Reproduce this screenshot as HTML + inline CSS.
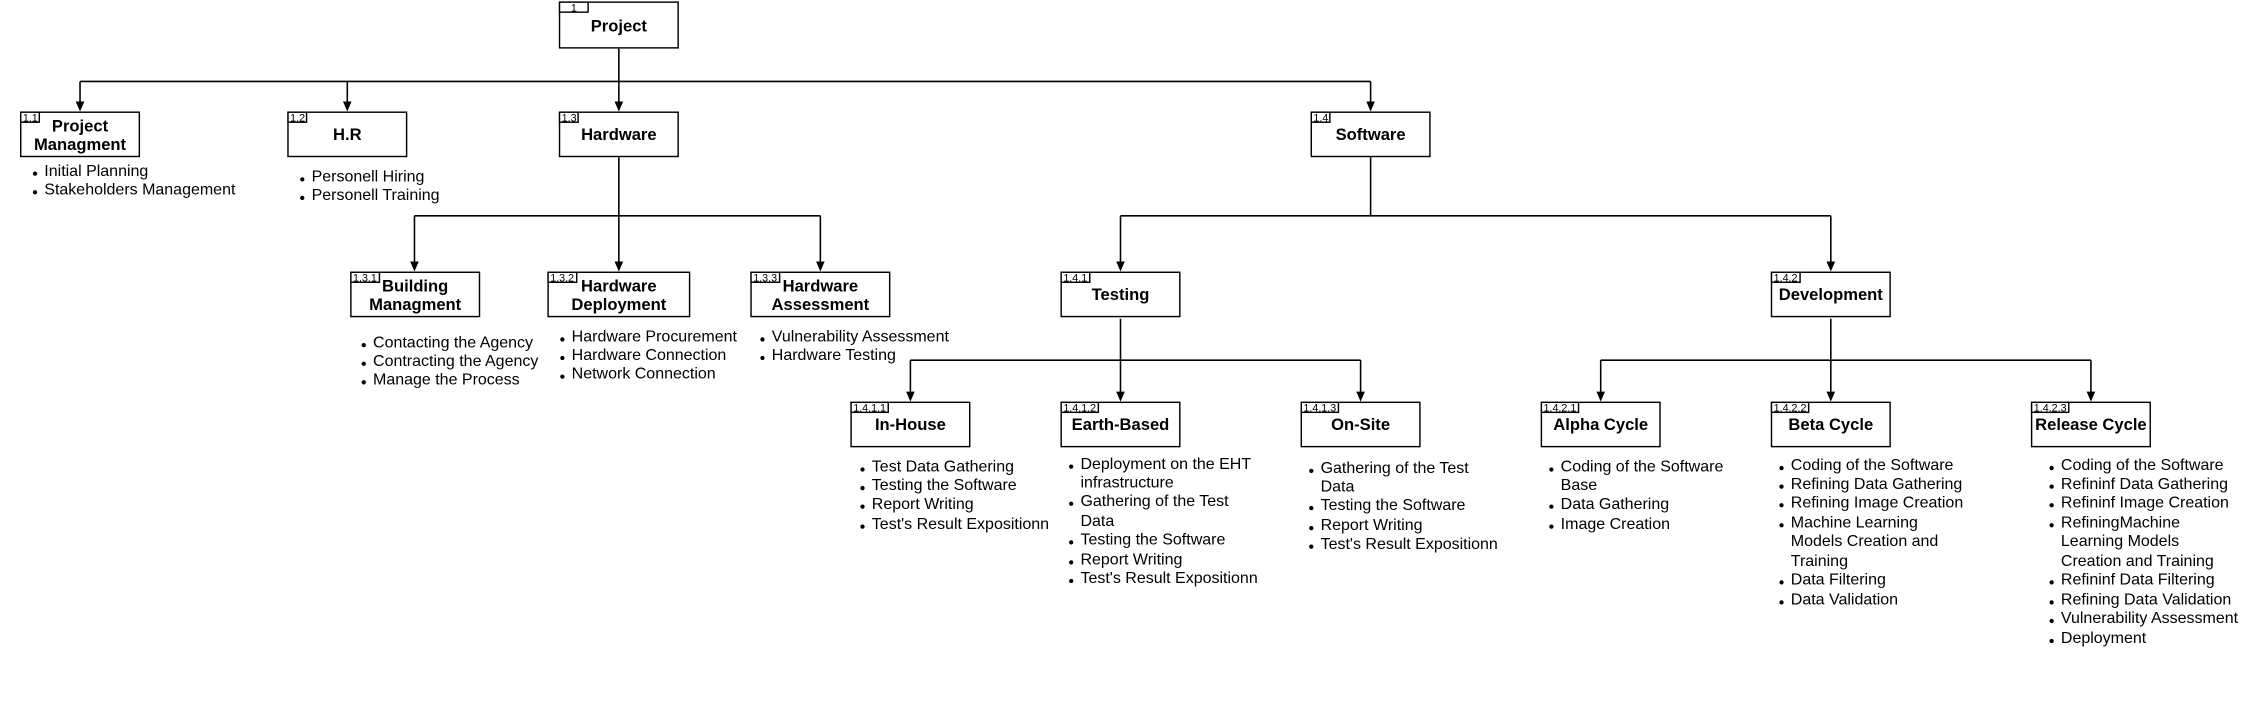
<!DOCTYPE html>
<html><head><meta charset="utf-8"><style>
html,body{margin:0;padding:0;background:#fff;}
body{width:2241px;height:713px;overflow:hidden;position:relative;}
#w{position:absolute;left:0;top:0;width:1568px;height:499px;transform:scale(1.4292);transform-origin:0 0;font-family:"Liberation Sans",Arial,sans-serif;color:#000;}
.b{position:absolute;height:32px;border:1px solid #000;box-sizing:border-box;background:#fff;display:flex;align-items:center;justify-content:center;text-align:center;font-weight:bold;font-size:11.6px;line-height:13.5px;padding-top:2px;}
.t{position:absolute;left:-1px;top:-1px;height:8px;border:1px solid #000;box-sizing:border-box;font-size:7.5px;line-height:7px;font-weight:normal;padding:0 1px;text-align:left;background:#fff;}
.l{position:absolute;font-size:11.2px;line-height:13.45px;white-space:nowrap;margin-top:1.5px;}
.l div{position:relative;}
.l div.i::before{content:"";position:absolute;left:-8px;top:6px;width:3px;height:3px;border-radius:50%;background:#000;}
svg{position:absolute;left:0;top:0;}
</style></head><body><div id="w">
<svg width="1568" height="499" viewBox="0 0 1568 499">
<g stroke="#000" stroke-width="1.1" fill="none">
<path d="M433 34V72M56 57H959M56 57V72M243 57V72M959 57V72"/>
<path d="M433 110V184M290 151H574M290 151V184M574 151V184"/>
<path d="M959 110V151M784 151H1281M784 151V184M1281 151V184"/>
<path d="M784 223V275M637 252H952M637 252V275M952 252V275"/>
<path d="M1281 223V275M1120 252H1463M1120 252V275M1463 252V275"/>
</g>
<g fill="#000">
<path d="M53 71h6l-3 7z"/><path d="M240 71h6l-3 7z"/><path d="M430 71h6l-3 7z"/><path d="M956 71h6l-3 7z"/>
<path d="M287 183h6l-3 7z"/><path d="M430 183h6l-3 7z"/><path d="M571 183h6l-3 7z"/>
<path d="M781 183h6l-3 7z"/><path d="M1278 183h6l-3 7z"/>
<path d="M634 274h6l-3 7z"/><path d="M781 274h6l-3 7z"/><path d="M949 274h6l-3 7z"/>
<path d="M1117 274h6l-3 7z"/><path d="M1278 274h6l-3 7z"/><path d="M1460 274h6l-3 7z"/>
</g>
</svg>

<div class="b" style="left:391px;top:1px;width:84px;height:33px"><div class="t" style="width:21px;text-align:center">1</div>Project</div>
<div class="b" style="left:14px;top:78px;width:84px"><div class="t">1.1</div>Project<br>Managment</div>
<div class="b" style="left:201px;top:78px;width:84px"><div class="t">1.2</div>H.R</div>
<div class="b" style="left:391px;top:78px;width:84px"><div class="t">1.3</div>Hardware</div>
<div class="b" style="left:917px;top:78px;width:84px"><div class="t">1.4</div>Software</div>

<div class="b" style="left:245px;top:190px;width:91px"><div class="t">1.3.1</div>Building<br>Managment</div>
<div class="b" style="left:383px;top:190px;width:100px"><div class="t">1.3.2</div>Hardware<br>Deployment</div>
<div class="b" style="left:525px;top:190px;width:98px"><div class="t">1.3.3</div>Hardware<br>Assessment</div>
<div class="b" style="left:742px;top:190px;width:84px"><div class="t">1.4.1</div>Testing</div>
<div class="b" style="left:1239px;top:190px;width:84px"><div class="t">1.4.2</div>Development</div>

<div class="b" style="left:595px;top:281px;width:84px"><div class="t">1.4.1.1</div>In-House</div>
<div class="b" style="left:742px;top:281px;width:84px"><div class="t">1.4.1.2</div>Earth-Based</div>
<div class="b" style="left:910px;top:281px;width:84px"><div class="t">1.4.1.3</div>On-Site</div>
<div class="b" style="left:1078px;top:281px;width:84px"><div class="t">1.4.2.1</div>Alpha Cycle</div>
<div class="b" style="left:1239px;top:281px;width:84px"><div class="t">1.4.2.2</div>Beta Cycle</div>
<div class="b" style="left:1421px;top:281px;width:84px"><div class="t">1.4.2.3</div>Release Cycle</div>

<div class="l" style="left:31px;top:112px"><div class="i">Initial Planning</div><div class="i">Stakeholders Management</div></div>
<div class="l" style="left:218px;top:116px"><div class="i">Personell Hiring</div><div class="i">Personell Training</div></div>
<div class="l" style="left:261px;top:232px"><div class="i">Contacting the Agency</div><div class="i">Contracting the Agency</div><div class="i">Manage the Process</div></div>
<div class="l" style="left:400px;top:228px"><div class="i">Hardware Procurement</div><div class="i">Hardware Connection</div><div class="i">Network Connection</div></div>
<div class="l" style="left:540px;top:228px"><div class="i">Vulnerability Assessment</div><div class="i">Hardware Testing</div></div>
<div class="l" style="left:610px;top:319px"><div class="i">Test Data Gathering</div><div class="i">Testing the Software</div><div class="i">Report Writing</div><div class="i">Test's Result Expositionn</div></div>
<div class="l" style="left:756px;top:317px"><div class="i">Deployment on the EHT</div><div>infrastructure</div><div class="i">Gathering of the Test</div><div>Data</div><div class="i">Testing the Software</div><div class="i">Report Writing</div><div class="i">Test's Result Expositionn</div></div>
<div class="l" style="left:924px;top:320px"><div class="i">Gathering of the Test</div><div>Data</div><div class="i">Testing the Software</div><div class="i">Report Writing</div><div class="i">Test's Result Expositionn</div></div>
<div class="l" style="left:1092px;top:319px"><div class="i">Coding of the Software</div><div>Base</div><div class="i">Data Gathering</div><div class="i">Image Creation</div></div>
<div class="l" style="left:1253px;top:318px"><div class="i">Coding of the Software</div><div class="i">Refining Data Gathering</div><div class="i">Refining Image Creation</div><div class="i">Machine Learning</div><div>Models Creation and</div><div>Training</div><div class="i">Data Filtering</div><div class="i">Data Validation</div></div>
<div class="l" style="left:1442px;top:318px"><div class="i">Coding of the Software</div><div class="i">Refininf Data Gathering</div><div class="i">Refininf Image Creation</div><div class="i">RefiningMachine</div><div>Learning Models</div><div>Creation and Training</div><div class="i">Refininf Data Filtering</div><div class="i">Refining Data Validation</div><div class="i">Vulnerability Assessment</div><div class="i">Deployment</div></div>
</div></body></html>
